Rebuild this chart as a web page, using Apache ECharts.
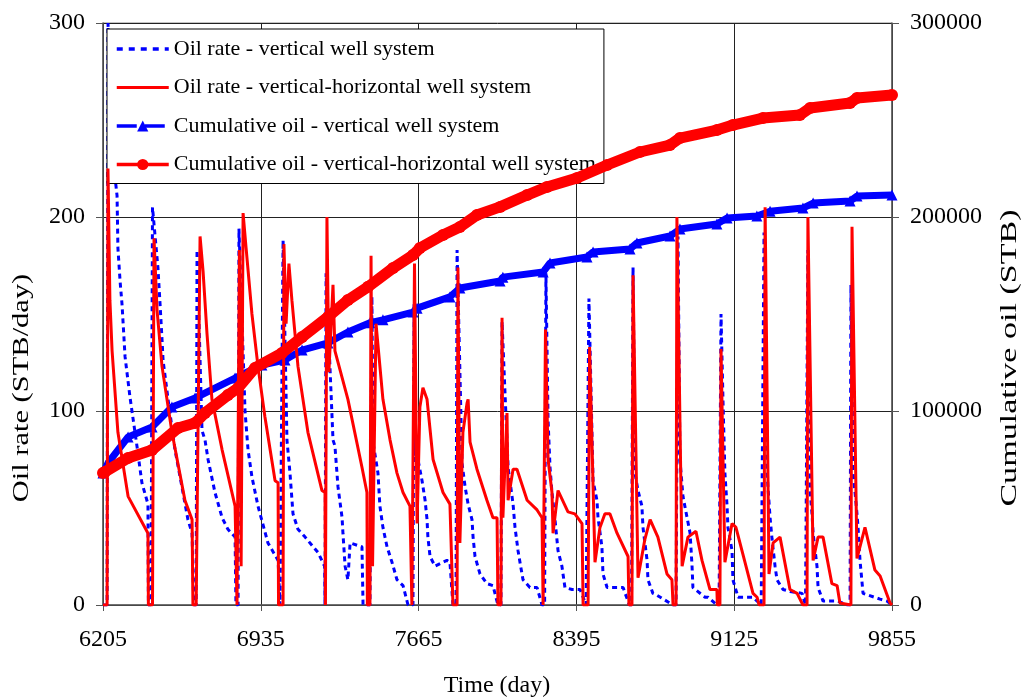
<!DOCTYPE html>
<html>
<head>
<meta charset="utf-8">
<script src="https://cdn.jsdelivr.net/npm/echarts/dist/echarts.min.js"></script>
<style>
  html, body { margin: 0; padding: 0; background: #fff; }
  #chart { width: 1026px; height: 698px; }
</style>
</head>
<body>
<div id="chart"></div>
<script>
// Time axis (days) and tick spacing
const dayStart = 6205;
const dayEnd = 9855;
const dayStep = 730;

// Oil rate, vertical well system: [day, STB/day]
const rateVertical = [
  [6205,0],[6224,0],[6228,300],[6261,220],[6270,211],[6274,184],[6284,167],[6293,155],[6307,128],[6330,107],[6362,82],[6385,63],[6413,52],[6415,0],
  [6427,0],[6434,205],[6459,174],[6469,155],[6478,137],[6483,126],[6506,106],[6538,80],[6570,61],[6598,44],[6617,37],[6625,0],
  [6636,0],[6640,183],[6663,90],[6677,85],[6691,75],[6723,58],[6756,45],[6783,39],[6816,35],[6820,0],
  [6830,0],[6834,194],[6862,100],[6876,80],[6894,66],[6922,51],[6968,32],[7015,23],[7024,0],
  [7033,0],[7038,188],[7056,85],[7070,68],[7084,47],[7107,39],[7140,35],[7200,27],[7230,20],[7232,0],
  [7235,0],[7237,171],[7269,85],[7278,82],[7292,61],[7311,45],[7315,37],[7325,20],[7338,13],[7348,32],[7403,30],[7408,0],
  [7440,0],[7449,159],[7454,84],[7477,68],[7486,51],[7500,40],[7519,30],[7542,22],[7565,13],[7593,10],[7616,0],
  [7639,0],[7644,155],[7648,78],[7662,75],[7681,64],[7695,54],[7704,44],[7708,35],[7718,25],[7741,20],[7796,23],[7810,22],[7824,0],
  [7838,0],[7843,183],[7866,73],[7880,61],[7894,52],[7912,44],[7917,35],[7926,25],[7949,16],[7981,11],[8009,10],[8032,0],
  [8046,0],[8051,146],[8079,71],[8102,52],[8111,40],[8125,28],[8134,22],[8148,13],[8180,9],[8213,9],[8236,0],
  [8248,0],[8254,171],[8264,95],[8273,71],[8282,58],[8296,44],[8310,28],[8328,20],[8342,9],[8375,8],[8412,8],[8440,0],
  [8449,0],[8453,158],[8472,64],[8490,54],[8495,45],[8513,30],[8518,16],[8537,9],[8564,9],[8611,9],[8640,0],
  [8650,0],[8657,174],[8666,68],[8680,59],[8698,51],[8703,40],[8722,23],[8726,13],[8749,6],[8768,5],[8842,0],
  [8856,0],[8865,190],[8874,75],[8888,56],[8907,45],[8921,37],[8930,20],[8934,9],[8990,4],[9004,4],[9045,0],
  [9055,0],[9064,150],[9073,106],[9082,68],[9092,51],[9096,40],[9115,28],[9119,13],[9143,4],[9212,4],[9250,0],
  [9258,0],[9263,192],[9277,70],[9281,61],[9291,45],[9300,34],[9314,20],[9323,13],[9351,8],[9383,7],[9439,6],[9455,0],
  [9462,0],[9466,183],[9476,59],[9485,47],[9490,37],[9508,20],[9513,9],[9536,2],[9605,2],[9650,0],
  [9661,0],[9665,165],[9675,68],[9684,58],[9693,47],[9698,40],[9707,23],[9721,6],[9800,3],[9832,2],[9855,0]
];

// Oil rate, vertical-horizontal well system: [day, STB/day]
const rateVertHoriz = [
  [6205,0],[6224,0],[6228,225],[6237,157],[6247,131],[6274,89],[6321,56],[6413,37],[6415,0],
  [6434,0],[6441,189],[6455,152],[6478,123],[6524,89],[6584,54],[6617,44],[6621,0],
  [6636,0],[6654,190],[6668,172],[6686,140],[6709,106],[6756,80],[6816,51],[6825,0],
  [6830,0],[6836,183],[6844,20],[6853,202],[6867,184],[6894,150],[6922,123],[6954,97],[7001,64],[7015,63],[7017,0],
  [7038,0],[7042,186],[7052,145],[7065,176],[7079,157],[7107,123],[7153,89],[7218,59],[7232,58],[7234,0],
  [7239,0],[7241,200],[7250,120],[7269,165],[7278,131],[7338,106],[7403,71],[7426,58],[7428,0],
  [7440,0],[7445,180],[7452,20],[7468,145],[7500,106],[7533,85],[7565,68],[7593,58],[7625,51],[7634,0],
  [7639,0],[7646,176],[7658,42],[7671,102],[7685,112],[7704,106],[7732,75],[7778,58],[7810,52],[7824,0],
  [7843,0],[7847,174],[7856,32],[7870,89],[7889,104],[7894,106],[7903,84],[7935,70],[7981,54],[8009,45],[8028,45],[8032,0],
  [8046,0],[8051,148],[8055,45],[8074,99],[8079,54],[8102,70],[8120,70],[8167,54],[8213,49],[8236,45],[8241,0],
  [8248,0],[8252,142],[8264,75],[8282,58],[8287,37],[8310,59],[8356,48],[8388,47],[8421,42],[8426,0],
  [8449,0],[8456,133],[8481,22],[8504,40],[8527,47],[8550,47],[8583,37],[8634,25],[8638,0],
  [8652,0],[8657,170],[8680,14],[8712,34],[8736,44],[8772,35],[8814,16],[8837,13],[8842,0],
  [8856,0],[8860,200],[8884,20],[8911,35],[8948,38],[8976,23],[9013,8],[9045,8],[9047,0],
  [9059,0],[9064,132],[9082,22],[9115,42],[9133,40],[9175,22],[9212,6],[9231,4],[9240,0],
  [9263,0],[9268,205],[9286,16],[9305,32],[9337,35],[9383,8],[9416,6],[9443,0],
  [9462,0],[9466,200],[9490,23],[9513,35],[9536,35],[9577,11],[9601,10],[9614,1],[9616,0],
  [9665,0],[9670,195],[9693,24],[9730,40],[9776,18],[9800,15],[9846,1],[9855,0]
];

// Cumulative oil, vertical well system: [day, STB]
const cumVertical = [
  [6205,68000],[6228,73200],[6321,86600],[6432,91800],[6524,102100],[6631,106700],[6816,117000],[6940,123700],
  [7047,126300],[7126,131400],[7246,135100],[7338,140700],[7440,145500],[7500,147000],[7639,151000],[7658,153000],
  [7810,158800],[7856,163400],[8042,167000],[8055,169000],[8241,171600],[8273,176300],[8444,179400],[8472,182000],
  [8643,183500],[8675,186600],[8828,190200],[8874,193800],[9045,196400],[9092,199500],[9230,200500],[9291,203000],
  [9443,204600],[9490,207200],[9661,208200],[9693,210800],[9855,211300]
];

// Cumulative oil, vertical-horizontal well system: [day, STB]
const cumVertHoriz = [
  [6205,68000],[6214,68600],[6321,75800],[6432,79900],[6552,91200],[6631,93800],[6677,99000],[6783,108200],
  [6830,111900],[6908,122200],[7033,129900],[7126,138100],[7246,148500],[7338,157200],[7431,164000],[7547,173700],
  [7639,180400],[7671,184000],[7778,190700],[7856,194800],[7935,201000],[8042,205200],[8167,211300],[8259,215500],
  [8398,220100],[8537,226800],[8689,233500],[8828,237100],[8874,240700],[9045,244800],[9119,247400],[9258,251000],
  [9429,252600],[9476,256200],[9661,258800],[9693,261300],[9855,262900]
];

const seriesNames = [
  'Oil rate - vertical well system',
  'Oil rate - vertical-horizontal well system',
  'Cumulative oil - vertical well system',
  'Cumulative oil - vertical-horizontal well system'
];

// Days are plotted relative to the first day so ticks fall on 730-day steps
const shift = pts => pts.map(p => [p[0] - dayStart, p[1]]);

const FONT = 'Liberation Serif';
const chart = echarts.init(document.getElementById('chart'), null, { renderer: 'canvas' });

chart.setOption({
  animation: false,
  backgroundColor: '#fff',
  grid: {
    left: 103, right: 134, top: 23, bottom: 93,
    show: true, borderColor: '#888', borderWidth: 1
  },
  legend: {
    orient: 'vertical',
    left: 107, top: 29,
    padding: [9, 8, 8, 8],
    itemWidth: 52, itemHeight: 14, itemGap: 16.5,
    backgroundColor: '#fff',
    borderColor: '#000', borderWidth: 1, borderRadius: 0,
    textStyle: { fontFamily: FONT, fontSize: 22, color: '#000' },
    lineStyle: { width: 3 },
    data: [
      { name: seriesNames[0], itemStyle: { opacity: 0 }, lineStyle: { width: 3.5, type: [6, 6] } },
      { name: seriesNames[1], itemStyle: { opacity: 0 }, lineStyle: { width: 3 } },
      { name: seriesNames[2], lineStyle: { width: 3.5, type: [20, 8] } },
      { name: seriesNames[3], lineStyle: { width: 3.5 } }
    ]
  },
  xAxis: {
    type: 'value',
    min: 0, max: dayEnd - dayStart, interval: dayStep,
    axisLine: { show: true, onZero: false, lineStyle: { color: '#555', width: 1.5 } },
    axisTick: { show: true, inside: false, length: 6, lineStyle: { color: '#555' } },
    axisLabel: {
      fontFamily: FONT, fontSize: 24, color: '#000', margin: 23,
      formatter: v => String(v + dayStart)
    },
    splitLine: { show: true, lineStyle: { color: '#222', width: 1 } }
  },
  yAxis: [
    {
      type: 'value', min: 0, max: 300, interval: 100, position: 'left',
      axisLine: { show: true, lineStyle: { color: '#555', width: 1.5 } },
      axisTick: { show: true, inside: false, length: 7, lineStyle: { color: '#555' } },
      axisLabel: { fontFamily: FONT, fontSize: 24, color: '#000', margin: 18 },
      splitLine: { show: true, lineStyle: { color: '#222', width: 1 } }
    },
    {
      type: 'value', min: 0, max: 300000, interval: 100000, position: 'right',
      axisLine: { show: true, lineStyle: { color: '#555', width: 1.5 } },
      axisTick: { show: true, inside: false, length: 7, lineStyle: { color: '#555' } },
      axisLabel: { fontFamily: FONT, fontSize: 24, color: '#000', margin: 18, formatter: v => String(v) },
      splitLine: { show: false }
    }
  ],
  graphic: [
    {
      type: 'text', x: 497, y: 686,
      style: { text: 'Time (day)', font: '24px "Liberation Serif"', fill: '#000', align: 'center', verticalAlign: 'middle' }
    },
    {
      type: 'text', x: 22, y: 388, rotation: Math.PI / 2, scaleX: 1.27,
      style: { text: 'Oil rate (STB/day)', font: '24px "Liberation Serif"', fill: '#000', align: 'center', verticalAlign: 'middle' }
    },
    {
      type: 'text', x: 1010, y: 358, rotation: Math.PI / 2, scaleX: 1.42,
      style: { text: 'Cumulative oil (STB)', font: '24px "Liberation Serif"', fill: '#000', align: 'center', verticalAlign: 'middle' }
    }
  ],
  series: [
    {
      name: seriesNames[0], type: 'line', yAxisIndex: 0, z: 2,
      data: shift(rateVertical),
      symbol: 'none', color: '#0000ff',
      lineStyle: { color: '#0000ff', width: 3, type: [5, 4] }
    },
    {
      name: seriesNames[2], type: 'line', yAxisIndex: 1, z: 3,
      data: shift(cumVertical),
      symbol: 'triangle', symbolSize: 11, showSymbol: true, color: '#0000ff',
      itemStyle: { color: '#0000ff' },
      lineStyle: { color: '#0000ff', width: 7 }
    },
    {
      name: seriesNames[1], type: 'line', yAxisIndex: 0, z: 4,
      data: shift(rateVertHoriz),
      symbol: 'none', color: '#ff0000',
      lineStyle: { color: '#ff0000', width: 3 }
    },
    {
      name: seriesNames[3], type: 'line', yAxisIndex: 1, z: 5,
      data: shift(cumVertHoriz),
      symbol: 'circle', symbolSize: 12, showSymbol: true, color: '#ff0000',
      itemStyle: { color: '#ff0000' },
      lineStyle: { color: '#ff0000', width: 11 }
    }
  ]
});
</script>
</body>
</html>
